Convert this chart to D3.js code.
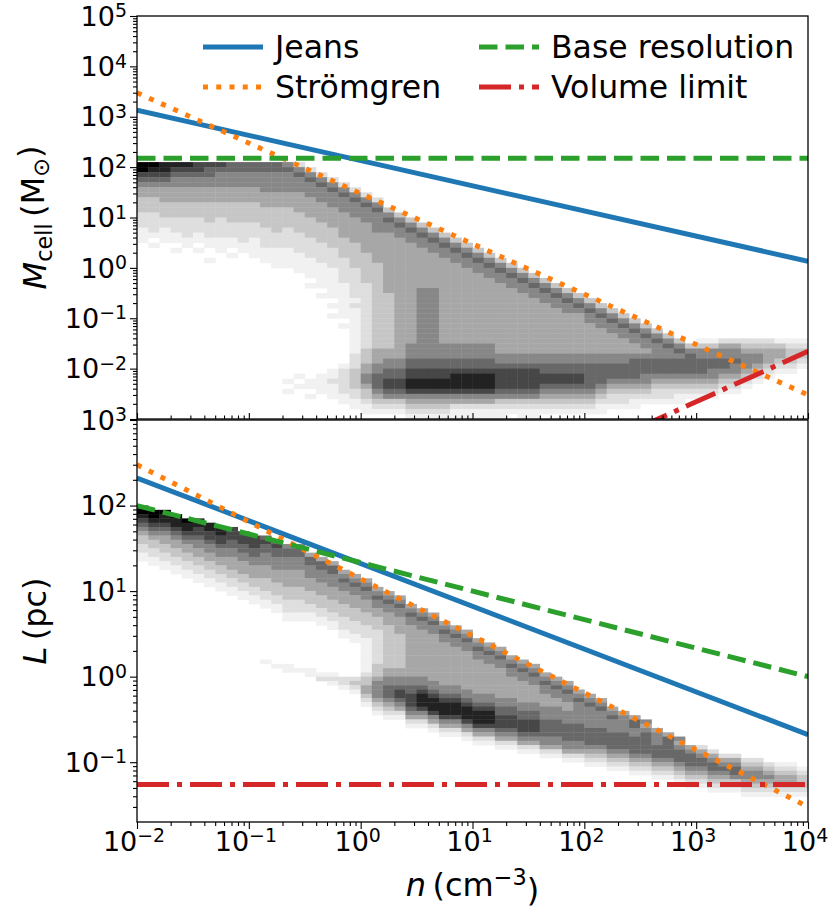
<!DOCTYPE html>
<html><head><meta charset="utf-8">
<script src="https://cdn.jsdelivr.net/npm/d3@7"></script>
<style>
body{margin:0;background:#fff}
text{font-family:"DejaVu Sans",sans-serif;fill:#000}
</style>
</head><body>
<svg id="c" width="835" height="912"></svg>
<script>
// ---------------- data ----------------
const nDomain = [1e-2, 1e4];
const mDomain = [1e-3, 1e5];
const lDomain = [0.02, 1e3];
const xLabelExps = [-2, -1, 0, 1, 2, 3, 4];
const mLabelExps = [5, 4, 3, 2, 1, 0, -1, -2];
const lLabelExps = [3, 2, 1, 0, -1];

const lineN  = [1e-2, 1e4];
const jeansM = [1350, 1.35];
const stromM = [3000, 0.003];
const baseM  = [150, 150];
const volN   = [300, 1e4];
const volM   = [6.6e-4, 0.022];
const jeansL = [210, 0.21];
const stromL = [300, 0.03];
const baseL  = [100, 1.0];
const volL   = [0.055, 0.055];

const legendLabels = ["Jeans", "Strömgren", "Base resolution", "Volume limit"];

// 2D histogram (grey level 0-9), columns: log n bins, rows: log M / log L bins
const histLogN0 = -2, histDLogN = 0.1;
const histTopLogM0 = 2.1, histDLogM = 0.1;
const histBotLogL0 = 2.05, histDLogL = 0.05;

const histTop = [
"9988877766 6665200000",
"9887776666 6666520000",
"7776666555 5555652000",
"6665555555 5555565200",
"5555555555 5555556520",
"4444444444 4555555652",
"4444444444 4444455565 2000000000",
"3344444444 4444445556 5200000000",
"3333333333 3444444555 6500000000",
"3333333333 3333444455 5630000000",
"2233333333 3333344445 5553000000",
"2222223233 3333334444 5565300000",
"2222222222 2333333444 4556530000",
"1212222222 2232333344 4555653000",
"1111212222 2222233344 4445565300",
"1011111112 1222223334 4444556530",
"0100101111 1222222333 4444455653",
"0001010101 1111222233 4444445565 3000000000",
"0000000010 1111122233 3444444556 5300000000",
"0000001000 0111112223 3444444455 6530000000",
"0000000000 0011111223 3344444445 5653000000",
"0000000000 0000111122 3344444444 5565300000",
"0000000000 0000011122 3344444444 4556530000",
"0000000000 0000001122 3344444444 4455653000",
"0000000000 0000011112 2344444444 4445565300",
"0000000000 0000000112 2344455444 4444556530",
"0000000000 0000001112 2334455444 4444455653",
"0000000000 0000000011 2334455444 4444445565 3000000000",
"0000000000 0000000112 2334455444 4444444556 5300000000",
"0000000000 0000000011 2334455444 4444444455 6530000000",
"0000000000 0000000111 2334455444 4444444444 5653000000",
"0000000000 0000000001 2334455444 4444444444 5565300000",
"0000000000 0000000011 2334455444 4444444444 4556530000",
"0000000000 0000000001 2334455444 4444444444 4455653000",
"0000000000 0000000001 2334455444 4444444444 4445565300",
"0000000000 0000000001 2334455444 4444444444 4444556530 1122222111",
"0000000000 0000000001 2334555555 5544444444 4444455653 3344333322",
"0000000000 0000000001 3444555555 5544444444 4444445565 5555444433",
"0000000000 0000000002 3444555555 5555555555 5555555556 5555554433",
"0000000000 0000000002 3455666666 6655555555 5555666666 6666554332",
"0000000000 0000000012 4555666666 6666666666 6666666666 6665543221",
"0000000000 0000000123 4566777777 7777776666 6666666666 6555432110",
"0000000000 0000101123 5666777788 8877777777 6666655555 5544321000",
"0000000000 0001011223 5677888888 8877777777 6655554444 4433210000",
"0000000000 0000111123 4677888888 8877776666 6544443333 3322100000",
"0000000000 0001001122 3566777777 7766665555 5433332222 2211000000",
"0000000000 0000010112 3455555555 5555554444 4322222211 1100000000",
"0000000000 0000000011 2333444444 4433333333 3222111110",
"0000000000 0000000001 1222333322 2222222222 2111100000",
"0000000000 0000000000 1111222211 1111111111 1100000000",
"0000000000 0000000000 0000111111 1110110000"
];

const histBot = [
"0000000000",
"9000000000",
"9990000000",
"8989000000",
"7888980000",
"6778888000",
"5667878870",
"4556777877",
"3445667777 7600000000",
"3344556767 7760000000",
"2334455666 7675500000",
"2233445556 6666600000",
"1223344555 6566640000",
"1122334445 5555564000",
"0112233444 5555566400",
"0011223344 4455556600",
"0001122334 4444455640",
"0000112233 4444455554",
"0000011223 3344445565 4000000000",
"0000001122 3334444556 5000000000",
"0000000112 2333344455 6400000000",
"0000000011 2233334445 5540000000",
"0000000001 1223333444 5654000000",
"0000000000 1122233344 4565000000",
"0000000000 0112223334 4556400000",
"0000000000 0012222333 4455540000",
"0000000000 0001112233 3445654000",
"0000000000 0001111223 3344565000",
"0000000000 0000001122 3344556400",
"0000000000 0000000122 2334455540",
"0000000000 0000000012 2234445654",
"0000000000 0000000011 2233444565",
"0000000000 0000000001 1233444556 4000000000",
"0000000000 0000000000 1233444455 5400000000",
"0000000000 0000000000 1233444445 6540000000",
"0000000000 0000000000 1233444444 5650000000",
"0000000000 0000000000 1233444444 5564000000",
"0000000000 0100000000 1233444444 4555400000",
"0000000000 0011000000 1333444444 4456540000",
"0000000000 0001110000 1344444444 4445650000",
"0000000000 0000011100 2344444444 4445564000",
"0000000000 0000002222 3455554444 4444555400",
"0000000000 0000000123 3555555444 4444456540",
"0000000000 0000000012 4566665554 4444445650",
"0000000000 0000000001 4567676555 4444445564",
"0000000000 0000000000 3567787665 5544444555 4000000000",
"0000000000 0000000000 2456788776 5555444456 5400000000",
"0000000000 0000000000 1345788887 6655554445 6500000000",
"0000000000 0000000000 0234678888 7766555545 5640000000",
"0000000000 0000000000 0122557888 8866665555 5554000000",
"0000000000 0000000000 0011445778 8877665555 5565400000",
"0000000000 0000000000 0000224557 8877776655 5555650000",
"0000000000 0000000000 0000112445 7777776666 5555640000",
"0000000000 0000000000 0000001224 5566776666 6655554000",
"0000000000 0000000000 0000000112 4455666666 6666565400",
"0000000000 0000000000 0000000001 2244555566 6666665650",
"0000000000 0000000000 0000000000 1122445555 6666665640",
"0000000000 0000000000 0000000000 0011224455 5566666654 2000000000",
"0000000000 0000000000 0000000000 0000112244 4455666665 4200000000",
"0000000000 0000000000 0000000000 0000001122 3344556666 5422000000",
"0000000000 0000000000 0000000000 0000000011 2233445566 6544220000",
"0000000000 0000000000 0000000000 0000000000 1122334456 6655332110",
"0000000000 0000000000 0000000000 0000000000 0011223345 5666443221",
"0000000000 0000000000 0000000000 0000000000 0000112234 4556554332",
"0000000000 0000000000 0000000000 0000000000 0000001123 3445555443",
"0000000000 0000000000 0000000000 0000000000 0000000012 2333444443",
"0000000000 0000000000 0000000000 0000000000 0000000001 1222333333",
"0000000000 0000000000 0000000000 0000000000 0000000000 0111222222",
"0000000000 0000000000 0000000000 0000000000 0000000000 0000111111"
];

// ---------------- layout ----------------
const svg = d3.select('#c');
const X0 = 137, X1 = 808;
const TOP = {y0: 16, y1: 419};
const BOT = {y0: 420, y1: 822};
const x = d3.scaleLog().domain(nDomain).range([X0, X1]);
const yTop = d3.scaleLog().domain(mDomain).range([TOP.y1, TOP.y0]);
const yBot = d3.scaleLog().domain(lDomain).range([BOT.y1, BOT.y0]);
const TICK_FS = 27, LEG_FS = 31.5, LAB_FS = 32;
const colors = {jeans:'#1f77b4', strom:'#ff7f0e', base:'#2ca02c', vol:'#d62728'};
const LW = 5;
const dashes = {solid:null, dotted:`${LW},${1.65*LW}`, dashed:`${3.7*LW},${1.6*LW}`, dashdot:`${6.4*LW},${1.6*LW},${LW},${1.6*LW}`};

const defs = svg.append('defs');
function clip(id, p){
  defs.append('clipPath').attr('id', id).append('rect')
    .attr('x', X0).attr('y', p.y0).attr('width', X1 - X0).attr('height', p.y1 - p.y0);
}
clip('clipTop', TOP); clip('clipBot', BOT);

function drawHist(g, grid, yScale, logY0, dLogY){
  const cells = [];
  grid.forEach((row, i) => {
    const s = row.replace(/ /g, '').padEnd(60, '0');
    for (let j = 0; j < s.length; j++){
      const k = +s[j];
      if (k) cells.push({i, j, k});
    }
  });
  g.selectAll('rect.cell').data(cells).join('rect').attr('class','cell')
    .attr('x', d => x(10 ** (histLogN0 + d.j * histDLogN)))
    .attr('width', d => x(10 ** (histLogN0 + (d.j + 1) * histDLogN)) - x(10 ** (histLogN0 + d.j * histDLogN)) + 0.4)
    .attr('y', d => yScale(10 ** (logY0 - d.i * dLogY)))
    .attr('height', d => yScale(10 ** (logY0 - (d.i + 1) * dLogY)) - yScale(10 ** (logY0 - d.i * dLogY)) + 0.4)
    .attr('fill', d => d3.interpolateGreys(d.k / 9));
}

function drawLine(g, xs, ys, yScale, color, dash){
  g.append('path').datum(d3.zip(xs, ys))
    .attr('d', d3.line().x(d => x(d[0])).y(d => yScale(d[1])))
    .attr('fill', 'none').attr('stroke', color).attr('stroke-width', LW)
    .attr('stroke-dasharray', dash).attr('stroke-linecap', 'butt');
}

function majors(dom){
  const a = [];
  for (let e = Math.round(Math.log10(dom[0]) - 0.5 + 1e-9); e <= Math.floor(Math.log10(dom[1]) + 1e-9); e++){
    const v = 10 ** e; if (v >= dom[0] * 0.999) a.push(v);
  }
  return a;
}
function minors(dom){
  const a = [];
  for (let e = Math.floor(Math.log10(dom[0])) - 1; e <= Math.ceil(Math.log10(dom[1])); e++)
    for (let k = 2; k <= 9; k++){ const v = k * 10 ** e; if (v > dom[0] * 1.0001 && v < dom[1] * 0.9999) a.push(v); }
  return a;
}
function styleAxis(g){
  g.select('.domain').remove();
  g.selectAll('line').attr('stroke', '#000').attr('stroke-width', 1.1);
}
function powText(sel, e){
  sel.append('tspan').text('10');
  sel.append('tspan').attr('dy', '-0.45em').attr('font-size', '0.7em').text(e < 0 ? '\u2212' + (-e) : String(e));
}

// ---------- panels ----------
const gTop = svg.append('g');
const gBot = svg.append('g');

const hTop = gTop.append('g').attr('clip-path', 'url(#clipTop)');
drawHist(hTop, histTop, yTop, histTopLogM0, histDLogM);
drawLine(hTop, lineN, jeansM, yTop, colors.jeans, dashes.solid);
drawLine(hTop, lineN, stromM, yTop, colors.strom, dashes.dotted);
drawLine(hTop, lineN, baseM, yTop, colors.base, dashes.dashed);
drawLine(hTop, volN, volM, yTop, colors.vol, dashes.dashdot);

const hBot = gBot.append('g').attr('clip-path', 'url(#clipBot)');
drawHist(hBot, histBot, yBot, histBotLogL0, histDLogL);
drawLine(hBot, lineN, jeansL, yBot, colors.jeans, dashes.solid);
drawLine(hBot, lineN, stromL, yBot, colors.strom, dashes.dotted);
drawLine(hBot, lineN, baseL, yBot, colors.base, dashes.dashed);
drawLine(hBot, lineN, volL, yBot, colors.vol, dashes.dashdot);

// axes: y
[[gTop, yTop, mDomain], [gBot, yBot, lDomain]].forEach(([g, ys, dom]) => {
  styleAxis(g.append('g').attr('transform', `translate(${X0},0)`)
    .call(d3.axisLeft(ys).tickValues(minors(dom)).tickSize(4).tickSizeOuter(0).tickFormat('')));
  styleAxis(g.append('g').attr('transform', `translate(${X0},0)`)
    .call(d3.axisLeft(ys).tickValues(majors(dom)).tickSize(7).tickSizeOuter(0).tickFormat('')));
});
// x axes
styleAxis(gBot.append('g').attr('transform', `translate(0,${BOT.y1})`)
  .call(d3.axisBottom(x).tickValues(minors(nDomain)).tickSize(4).tickSizeOuter(0).tickFormat('')));
styleAxis(gBot.append('g').attr('transform', `translate(0,${BOT.y1})`)
  .call(d3.axisBottom(x).tickValues(majors(nDomain)).tickSize(7).tickSizeOuter(0).tickFormat('')));
styleAxis(gTop.append('g').attr('transform', `translate(0,${TOP.y1})`)
  .call(d3.axisTop(x).tickValues(minors(nDomain)).tickSize(3.5).tickSizeOuter(0).tickFormat('')));
styleAxis(gTop.append('g').attr('transform', `translate(0,${TOP.y1})`)
  .call(d3.axisTop(x).tickValues(majors(nDomain)).tickSize(6).tickSizeOuter(0).tickFormat('')));

// spines
[TOP, BOT].forEach(p => svg.append('rect').attr('x', X0).attr('y', p.y0)
  .attr('width', X1 - X0).attr('height', p.y1 - p.y0)
  .attr('fill', 'none').attr('stroke', '#000').attr('stroke-width', 1.3));

// tick labels
const lab = svg.append('g').attr('font-size', TICK_FS);
mLabelExps.forEach(e => {
  lab.append('text').attr('x', X0 - 10).attr('y', yTop(10 ** e)).attr('dy', '0.36em')
    .attr('text-anchor', 'end').call(powText, e);
});
lLabelExps.forEach(e => {
  lab.append('text').attr('x', X0 - 10).attr('y', yBot(10 ** e)).attr('dy', '0.36em')
    .attr('text-anchor', 'end').call(powText, e);
});
xLabelExps.forEach(e => {
  lab.append('text').attr('x', x(10 ** e) - 3).attr('y', 851)
    .attr('text-anchor', 'middle').call(powText, e);
});

// axis titles
const xt = svg.append('text').attr('x', (X0 + X1) / 2).attr('y', 896)
  .attr('text-anchor', 'middle').attr('font-size', LAB_FS);
xt.append('tspan').attr('font-style', 'italic').text('n');
xt.append('tspan').text('\u2009(cm');
xt.append('tspan').attr('dy', '-0.5em').attr('font-size', '0.7em').text('\u22123');
xt.append('tspan').attr('dy', '0.5em').text(')');

const yt1 = svg.append('text').attr('transform', `translate(46,${(TOP.y0 + TOP.y1) / 2}) rotate(-90)`)
  .attr('text-anchor', 'middle').attr('font-size', LAB_FS);
yt1.append('tspan').attr('font-style', 'italic').text('M');
yt1.append('tspan').attr('dy', '0.25em').attr('font-size', '0.7em').text('cell');
yt1.append('tspan').attr('dy', '-0.25em').text('\u2009(M');
yt1.append('tspan').attr('dy', '0.25em').attr('font-size', '0.7em').text('\u2299');
yt1.append('tspan').attr('dy', '-0.25em').text(')');

const yt2 = svg.append('text').attr('transform', `translate(46,${(BOT.y0 + BOT.y1) / 2}) rotate(-90)`)
  .attr('text-anchor', 'middle').attr('font-size', LAB_FS);
yt2.append('tspan').attr('font-style', 'italic').text('L');
yt2.append('tspan').text('\u2009(pc)');

// legend
const legItems = [
  {label: legendLabels[0], color: colors.jeans, dash: dashes.solid, cx: 203, ry: 47},
  {label: legendLabels[1], color: colors.strom, dash: dashes.dotted, cx: 203, ry: 87},
  {label: legendLabels[2], color: colors.base, dash: dashes.dashed, cx: 479, ry: 47},
  {label: legendLabels[3], color: colors.vol, dash: dashes.dashdot, cx: 479, ry: 87}
];
const leg = svg.append('g');
legItems.forEach(it => {
  leg.append('line').attr('x1', it.cx).attr('x2', it.cx + 60).attr('y1', it.ry).attr('y2', it.ry)
    .attr('stroke', it.color).attr('stroke-width', LW).attr('stroke-dasharray', it.dash);
  leg.append('text').attr('x', it.cx + 72).attr('y', it.ry + 11).attr('font-size', LEG_FS).text(it.label);
});
</script>
</body></html>
